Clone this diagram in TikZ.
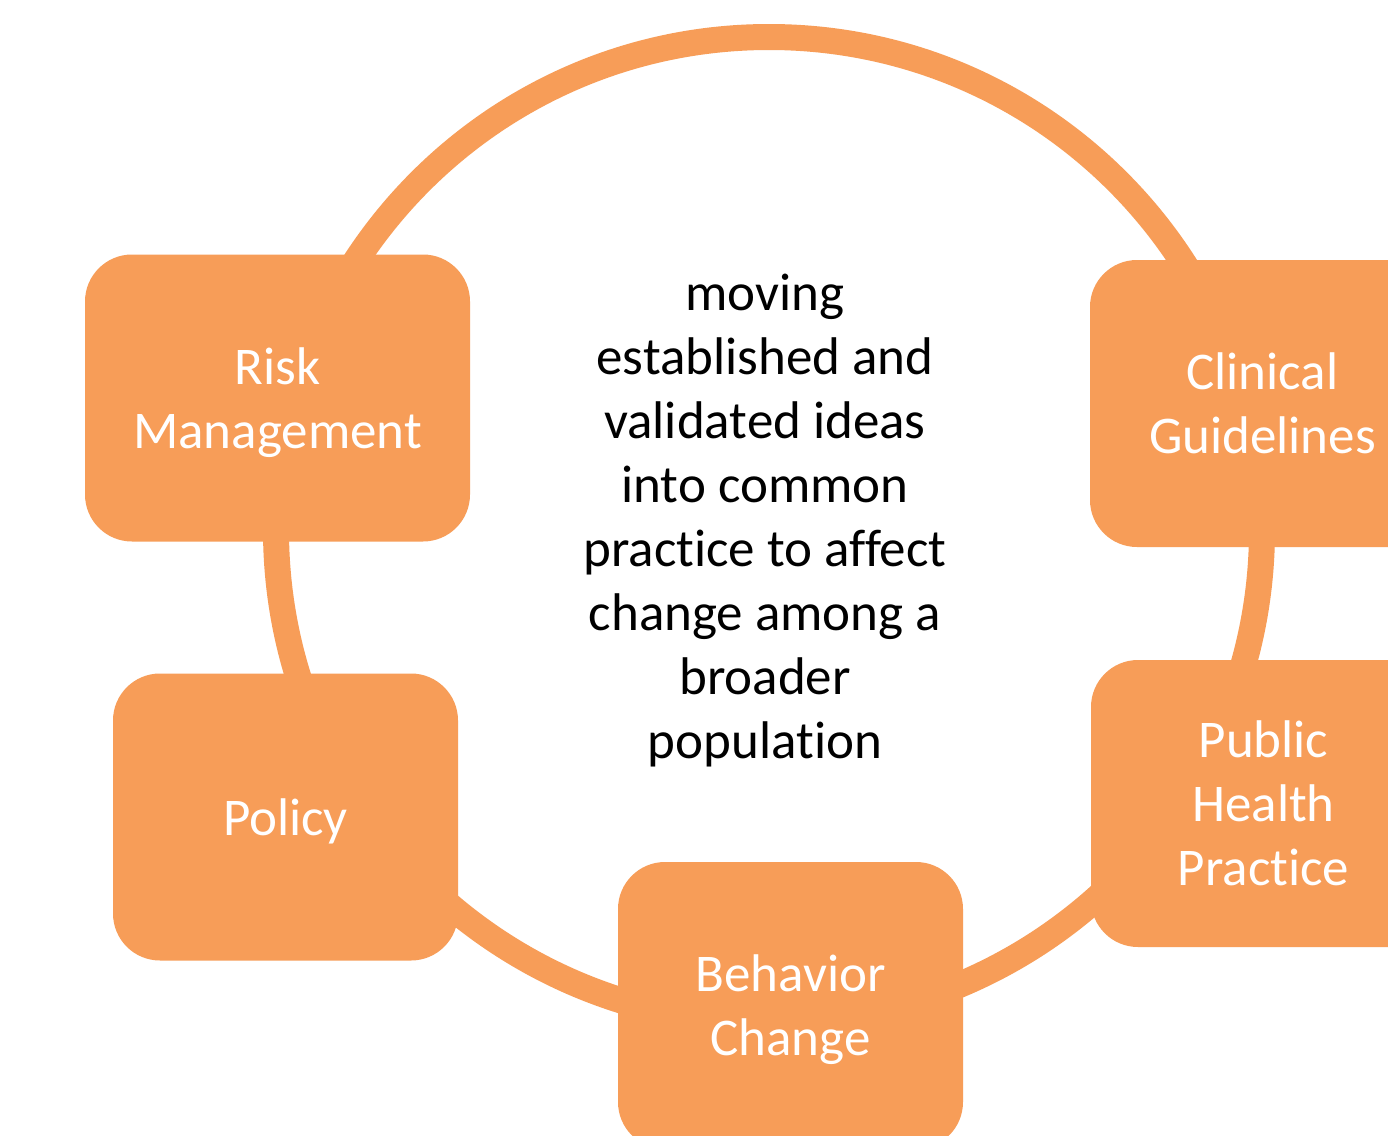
\documentclass[tikz,border=0pt]{standalone}
\usepackage{fontspec}
\setmainfont{Carlito}[Ligatures=NoCommon]
\definecolor{boxorange}{RGB}{247,157,88}
\newcommand\lnstr{\rule[-6pt]{0pt}{30pt}}
\begin{document}
\begin{tikzpicture}[x=0.5pt,y=-0.5pt,
  stagebox/.style={fill=boxorange, rounded corners=23.5pt, minimum width=172.5pt,
    minimum height=143.5pt, inner sep=0pt, text=white, align=center,
    font=\fontsize{26.5pt}{32pt}\selectfont},
  ringline/.style={draw=boxorange, line width=13pt},
  centertext/.style={align=center, text=black, inner sep=0pt,
    font=\fontsize{26.5pt}{32pt}\selectfont}]
\useasboundingbox (0,0) rectangle (1388,1136);
\clip (0,0) rectangle (1388,1136);
\fill[white] (0,0) rectangle (1388,1136);
\draw[ringline] (769,530) circle[radius=493];
\node[stagebox, minimum width=192.5pt] (risk) at (277.5,398) {\lnstr Risk\\\lnstr Management};
\node[stagebox] (clinical) at (1262.5,403.5) {\lnstr Clinical\\\lnstr Guidelines};
\node[stagebox] (public) at (1263.5,803.5) {\lnstr Public\\\lnstr Health\\\lnstr Practice};
\node[stagebox] (behavior) at (790.5,1005.5) {\lnstr Behavior\\\lnstr Change};
\node[stagebox] (policy) at (285.5,817) {\lnstr Policy};
\node[centertext] (center) at (765,516) {\lnstr moving\\\lnstr established and\\\lnstr validated ideas\\\lnstr into common\\\lnstr practice to affect\\\lnstr change among a\\\lnstr broader\\\lnstr population};
\end{tikzpicture}
\end{document}
